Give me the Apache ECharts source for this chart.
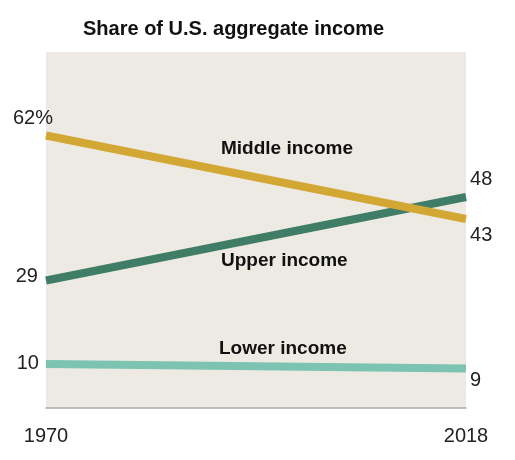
<!DOCTYPE html>
<html>
<head>
<meta charset="utf-8">
<script src="https://cdn.jsdelivr.net/npm/echarts@6/dist/echarts.min.js"></script>
<style>
    html, body { margin: 0; padding: 0; background: #fff; }
    #chart { width: 515px; height: 460px; }
</style>
</head>
<body>
<div id="chart"></div>
<script>
    var years = ['1970', '2018'];
    var seriesNames = ['Middle income', 'Upper income', 'Lower income'];
    var middleIncome = [62, 43];
    var upperIncome = [29, 48];
    var lowerIncome = [10, 9];
    var endLabels = [['62%', '43'], ['29', '48'], ['10', '9']];

    var colors = ['#d3a734', '#3f7d66', '#7cc4b1'];
    var FONT = 'Liberation Sans, Arial, sans-serif';
    // label offsets per series: [left end, right end]
    var labelOffsets = [
        [[15, -17], [0, 16]],
        [[0, -4], [0, -18]],
        [[1, -1], [0, 12]]
    ];

    function buildData(values, idx) {
        return values.map(function (v, i) {
            return {
                value: v,
                label: {
                    show: true,
                    formatter: endLabels[idx][i],
                    position: i === 0 ? 'left' : 'right',
                    distance: i === 0 ? 8 : 4,
                    offset: labelOffsets[idx][i],
                    fontSize: 20,
                    color: '#222',
                    fontFamily: FONT
                }
            };
        });
    }

    var dom = document.getElementById('chart');
    var myChart = echarts.init(dom);
    var allValues = [middleIncome, upperIncome, lowerIncome];

    option = {
        animation: false,
        title: {
            text: 'Share of U.S. aggregate income',
            left: 78,
            top: 14,
            textStyle: {
                fontSize: 20,
                fontWeight: 'bold',
                color: '#111',
                fontFamily: FONT
            }
        },
        grid: {
            left: 46,
            right: 49,
            top: 52,
            bottom: 52,
            show: true,
            backgroundColor: '#edeae3',
            borderWidth: 0
        },
        xAxis: {
            type: 'category',
            boundaryGap: false,
            data: years,
            axisLine: { lineStyle: { color: '#aaa', width: 1.5 } },
            axisTick: { show: false },
            axisLabel: {
                margin: 18,
                fontSize: 20,
                color: '#222',
                fontFamily: FONT
            }
        },
        yAxis: {
            type: 'value',
            min: 0,
            max: 81,
            show: false,
            splitLine: { show: false }
        },
        series: seriesNames.map(function (name, idx) {
            return {
                name: name,
                type: 'line',
                z: idx === 0 ? 5 : 3,
                data: buildData(allValues[idx], idx),
                symbol: 'circle',
                symbolSize: 0.1,
                showSymbol: true,
                lineStyle: { color: colors[idx], width: 8 },
                itemStyle: { color: colors[idx] }
            };
        }),
        graphic: [
            { type: 'text', left: 221, top: 139, style: { text: 'Middle income', font: 'bold 19px ' + FONT, fill: '#111' } },
            { type: 'text', left: 221, top: 251, style: { text: 'Upper income', font: 'bold 19px ' + FONT, fill: '#111' } },
            { type: 'text', left: 219, top: 339, style: { text: 'Lower income', font: 'bold 19px ' + FONT, fill: '#111' } }
        ]
    };
    myChart.setOption(option, true);
</script>
</body>
</html>
